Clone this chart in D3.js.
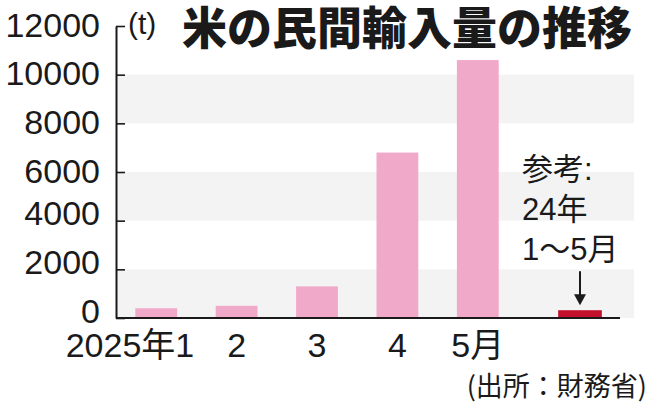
<!DOCTYPE html>
<html>
<head>
<meta charset="utf-8">
<script src="https://cdn.jsdelivr.net/npm/d3@7"></script>
<style>
  body { margin: 0; background: #fff; }
  svg { display: block; }
  text { fill: #1a1a1a; font-family: "Liberation Sans", Arial, "Noto Sans CJK JP", sans-serif; }
  .cjk { font-family: "Noto Sans CJK JP", sans-serif; }
</style>
</head>
<body>
<svg id="chart"></svg>
<script>

// data (t)
var months = ["1", "2", "3", "4", "5"];
var monthLabels = ["2025年1", "2", "3", "4", "5月"];
var imports = [400, 500, 1300, 6800, 10600];
var refCategory = ["24年1～5月"];
var refValue = [320];
var yTicks = [0, 2000, 4000, 6000, 8000, 10000, 12000];
var bands = [[0, 2000], [4000, 6000], [8000, 10000]];

var width = 650, height = 403;
var left = 116, baseY = 318, topY = 26;

var svg = d3.select("#chart").attr("width", width).attr("height", height);

var y = d3.scaleLinear().domain([0, 12000]).range([baseY, topY]);
var x = d3.scaleBand().domain(months).range([left, 518]).paddingInner(0.48).paddingOuter(0.24);
var xr = d3.scaleBand().domain(refCategory).range([538, 622]).paddingInner(0.48).paddingOuter(0.24);

// grey bands
svg.append("g").selectAll("rect")
   .data(bands).enter()
   .append("rect")
   .attr("x", left)
   .attr("width", 634 - left)
   .attr("y", function(d){ return y(d[1]); })
   .attr("height", function(d){ return y(d[0]) - y(d[1]); })
   .attr("fill", "#f3f3f3");

// bars
svg.append("g").selectAll("rect")
   .data(imports).enter()
   .append("rect")
   .attr("x", function(d, i){ return x(months[i]); })
   .attr("width", x.bandwidth())
   .attr("y", function(d){ return y(d); })
   .attr("height", function(d){ return y(0) - y(d); })
   .attr("fill", "#f1a9c9");

svg.append("g").selectAll("rect")
   .data(refValue).enter()
   .append("rect")
   .attr("x", function(d, i){ return xr(refCategory[i]); })
   .attr("width", xr.bandwidth())
   .attr("y", function(d){ return y(d); })
   .attr("height", function(d){ return y(0) - y(d); })
   .attr("fill", "#c3102c");

// y axis, ticks pointing inwards
var yAxis = svg.append("g")
   .attr("transform", "translate(" + left + ",0)")
   .call(d3.axisLeft(y).tickValues(yTicks).tickFormat(d3.format("d"))
           .tickSize(-9).tickSizeOuter(0).tickPadding(16));
yAxis.select(".domain").attr("stroke", "#1a1a1a").attr("stroke-width", 2);
yAxis.selectAll(".tick line").attr("stroke", "#1a1a1a").attr("stroke-width", 1.6);
yAxis.selectAll(".tick text")
   .attr("font-size", 34)
   .attr("font-family", "'Liberation Sans', Arial, sans-serif")
   .attr("dy", function(d){ return d <= 4000 ? "0.12em" : "0.3em"; })
   .style("fill", "#1a1a1a");

// baseline
svg.append("line")
   .attr("x1", left).attr("x2", 620)
   .attr("y1", y(0)).attr("y2", y(0))
   .attr("stroke", "#1a1a1a").attr("stroke-width", 2);

// x labels
var xAxis = svg.append("g")
   .attr("transform", "translate(0," + baseY + ")")
   .call(d3.axisBottom(x).tickSize(0).tickFormat(function(d, i){ return monthLabels[i]; }));
xAxis.select(".domain").remove();
xAxis.selectAll(".tick text")
   .attr("font-size", 34)
   .attr("y", 39)
   .attr("dy", 0)
   .style("fill", "#1a1a1a");
xAxis.selectAll(".tick text").filter(function(d, i){ return i === 0; })
   .attr("text-anchor", "end")
   .attr("x", 38);

// unit and title
svg.append("text").attr("x", 128).attr("y", 34).attr("font-size", 30).text("(t)");
svg.append("text").attr("class", "cjk")
   .attr("x", 182).attr("y", 45)
   .attr("font-size", 45).attr("font-weight", 900)
   .text("米の民間輸入量の推移");

// annotation
var note = ["参考:", "24年", "1～5月"];
svg.append("g").selectAll("text")
   .data(note).enter()
   .append("text")
   .attr("x", 522)
   .attr("y", function(d, i){ return 180 + i * 40; })
   .attr("font-size", 31)
   .text(function(d){ return d; });

var ax = xr(refCategory[0]) + xr.bandwidth() / 2;
var tip = y(refValue[0]) - 5;
svg.append("line")
   .attr("x1", ax).attr("x2", ax)
   .attr("y1", tip - 34).attr("y2", tip - 8)
   .attr("stroke", "#1a1a1a").attr("stroke-width", 2);
svg.append("path")
   .attr("d", "M" + (ax - 6) + "," + (tip - 11) + "L" + ax + "," + tip + "L" + (ax + 6) + "," + (tip - 11) + "Z")
   .attr("fill", "#1a1a1a");

// source
svg.append("text").attr("class", "cjk")
   .attr("x", 647).attr("y", 396)
   .attr("text-anchor", "end")
   .attr("font-size", 27)
   .text("(出所：財務省)");

</script>
</body>
</html>
